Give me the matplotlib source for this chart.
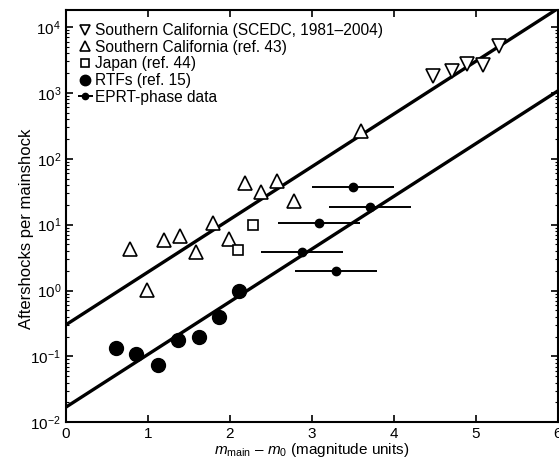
import numpy as np
import matplotlib
matplotlib.use('Agg')
import matplotlib.pyplot as plt
from matplotlib.ticker import LogLocator, NullFormatter, MultipleLocator

plt.rcParams['font.family'] = ['Liberation Sans', 'DejaVu Sans']
plt.rcParams['mathtext.fontset'] = 'custom'
plt.rcParams['mathtext.rm'] = 'Liberation Sans'
plt.rcParams['mathtext.it'] = 'Liberation Sans:italic'

# Southern California (SCEDC, 1981-2004)
scedc_x = [4.48, 4.71, 4.89, 5.09, 5.28]
scedc_y = [1780, 2130, 2740, 2630, 5130]

# Southern California (ref. 43)
ref43_x = [0.78, 0.99, 1.20, 1.39, 1.59, 1.79, 1.99, 2.18, 2.38, 2.57, 2.78, 3.60]
ref43_y = [4.2, 1.03, 5.8, 6.7, 3.8, 10.5, 6.0, 43, 31, 46, 23, 260]

# Japan (ref. 44)
japan_x = [2.10, 2.28]
japan_y = [4.1, 10.0]

# RTFs (ref. 15)
rtf_x = [0.61, 0.86, 1.12, 1.37, 1.62, 1.87, 2.11]
rtf_y = [0.135, 0.11, 0.074, 0.18, 0.20, 0.40, 1.0]

# EPRT-phase data, with horizontal error bars
eprt_x = [3.50, 3.71, 3.09, 2.88, 3.29]
eprt_y = [37, 18.5, 10.5, 3.8, 2.0]
eprt_xerr = [0.5, 0.5, 0.5, 0.5, 0.5]

# fitted lines: log10(N) = a + b * x
fit_slope = 0.8
fit_upper = -0.52
fit_lower = -1.77

fig = plt.figure(figsize=(5.59, 4.62), dpi=100)
ax = fig.add_axes([0.118, 0.086, 0.880, 0.892])

xx = np.array([0, 6])
ax.plot(xx, 10 ** (fit_upper + fit_slope * xx), color='black', lw=2.4, zorder=2)
ax.plot(xx, 10 ** (fit_lower + fit_slope * xx), color='black', lw=2.4, zorder=2)

ax.plot(scedc_x, scedc_y, linestyle='none', marker='v', ms=10, mfc='white', mec='black', mew=1.2,
        label='Southern California (SCEDC, 1981\u20132004)', zorder=3)
ax.plot(ref43_x, ref43_y, linestyle='none', marker='^', ms=10, mfc='white', mec='black', mew=1.2,
        label='Southern California (ref. 43)', zorder=3)
ax.plot(japan_x, japan_y, linestyle='none', marker='s', ms=7, mfc='white', mec='black', mew=1.2,
        label='Japan (ref. 44)', zorder=3)
ax.plot(rtf_x, rtf_y, linestyle='none', marker='o', ms=10, color='black',
        label='RTFs (ref. 15)', zorder=3)
ax.errorbar(eprt_x, eprt_y, xerr=eprt_xerr, fmt='o', ms=6, color='black', elinewidth=1.4,
            capsize=0, label='EPRT-phase data', zorder=3)

ax.set_yscale('log')
ax.set_xlim(0, 6)
ax.set_ylim(1e-2, 1.8e4)
ax.xaxis.set_major_locator(MultipleLocator(1))
ax.yaxis.set_major_locator(LogLocator(base=10, numticks=20))
ax.yaxis.set_minor_locator(LogLocator(base=10, subs=np.arange(2, 10), numticks=20))
ax.yaxis.set_minor_formatter(NullFormatter())
ax.tick_params(axis='both', which='both', direction='in', top=True, right=True, labelsize=11)
ax.tick_params(axis='both', which='major', length=5, width=1.2)
ax.tick_params(axis='both', which='minor', length=2.5, width=0.8)
for s in ax.spines.values():
    s.set_linewidth(1.5)

ax.set_xlabel('$m_{\\mathrm{main}}$ \u2013 $m_0$ (magnitude units)', fontsize=11, labelpad=0)
ax.set_ylabel('Aftershocks per mainshock', fontsize=12)
ax.yaxis.set_label_coords(-0.064, 0.47)

ax.legend(loc='upper left', frameon=False, fontsize=11.2, handlelength=0.8, handletextpad=0.2,
          labelspacing=0.1, borderaxespad=0.55, borderpad=0.3, markerscale=0.75)

plt.savefig('out.png', dpi=100)
